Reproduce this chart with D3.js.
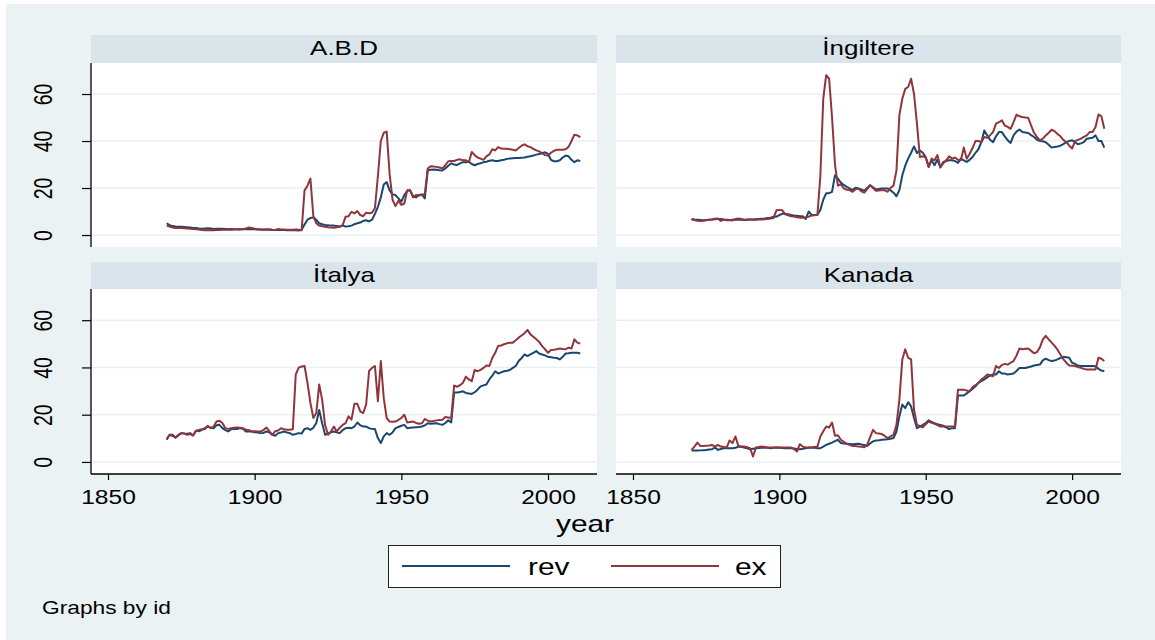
<!DOCTYPE html>
<html><head><meta charset="utf-8">
<script src="https://cdn.jsdelivr.net/npm/d3@7"></script>
<style>
body{margin:0;background:#fff}
svg{display:block}
text{font-family:"Liberation Sans",Arial,Helvetica,sans-serif;fill:#000}
</style>
</head><body>
<svg id="c" width="1155" height="640"></svg>
<script>
const years = d3.range(1870, 2012);
const countries = ["A.B.D", "İngiltere", "İtalya", "Kanada"];
const seriesNames = ["rev", "ex"];
const xTicks = [1850, 1900, 1950, 2000];
const yTicks = [0, 20, 40, 60];

const abdRev = [
5.0,4.2,3.8,3.6,3.5,3.5,3.4,3.3,3.2,3.0,
3.0,2.8,2.7,2.8,2.9,2.8,2.6,2.7,2.7,2.7,
2.6,2.5,2.6,2.5,2.4,2.4,2.5,2.4,2.6,2.5,
2.4,2.3,2.3,2.2,2.3,2.2,2.1,2.1,2.2,2.1,
2.1,2.0,2.0,2.0,2.0,1.9,2.2,4.5,6.5,7.2,
7.5,6.5,5.0,4.6,4.3,4.2,4.0,4.0,3.8,3.6,
4.0,3.6,3.7,4.0,4.6,5.0,5.3,6.0,6.3,5.8,
6.5,9.0,12.0,16.0,21.5,22.5,19.0,17.3,17.0,15.6,
14.2,17.0,18.8,19.0,16.5,16.0,17.0,17.3,15.6,27.5,
27.8,27.9,27.8,27.6,27.5,28.3,29.5,30.5,30.0,29.8,
30.5,31.0,31.0,31.2,30.2,29.7,30.2,30.5,31.0,31.2,
31.6,31.8,31.5,31.5,31.8,32.0,32.4,32.6,32.7,32.8,
32.8,32.9,33.0,33.3,33.5,33.8,34.2,34.5,34.8,35.2,
34.5,32.0,31.4,31.4,31.8,33.0,33.8,33.5,32.0,31.0,
31.8,31.5];
const abdEx = [
4.0,3.6,3.2,3.0,3.0,3.0,2.9,2.8,2.7,2.6,
2.5,2.3,2.1,2.0,2.0,2.1,2.0,2.1,2.1,2.2,
2.2,2.3,2.2,2.3,2.5,2.6,2.5,2.8,3.2,3.0,
2.7,2.5,2.3,2.3,2.4,2.5,2.2,2.1,2.6,2.4,
2.3,2.2,2.2,2.2,2.3,2.2,2.0,19.0,21.0,24.0,
8.0,5.0,4.0,3.7,3.5,3.3,3.2,3.1,3.3,3.5,
4.2,7.8,8.0,9.9,9.2,10.2,8.5,8.0,9.5,9.3,
9.5,11.5,25.0,40.0,43.5,44.0,26.0,15.0,12.3,14.6,
12.8,13.4,19.0,19.0,16.0,17.0,16.8,17.0,17.5,28.3,
29.3,29.2,29.0,28.7,28.3,29.7,31.4,31.5,31.5,32.0,
32.2,31.8,31.8,31.0,35.3,34.0,33.0,32.5,32.0,33.5,
34.3,36.5,36.0,37.4,36.8,36.7,36.7,36.5,36.3,36.0,
37.0,38.0,38.6,37.8,37.4,36.7,36.0,35.6,34.8,34.0,
33.8,35.0,35.8,36.3,36.3,36.3,36.5,37.5,40.0,42.7,
42.4,41.7];

const ingRev = [
6.8,6.6,6.5,6.4,6.3,6.4,6.5,6.6,6.7,6.8,
6.8,6.6,6.5,6.4,6.5,6.6,6.5,6.5,6.4,6.5,
6.6,6.6,6.7,6.8,6.9,7.0,7.2,7.4,7.8,7.8,
8.5,9.0,9.0,8.8,8.5,8.3,8.2,8.0,8.0,6.8,
10.0,8.6,8.5,8.6,10.7,15.0,17.8,17.8,18.4,25.4,
24.0,22.3,21.3,20.5,19.8,19.1,20.1,19.8,19.4,18.8,
20.0,21.2,20.3,19.4,19.6,19.8,19.8,19.8,19.0,18.0,
16.5,19.1,25.4,29.5,32.5,35.0,37.7,34.9,36.0,35.0,
33.2,29.0,31.8,29.7,32.1,28.7,31.1,31.5,31.8,31.8,
31.5,30.7,32.5,31.8,31.1,32.0,33.2,35.0,36.5,39.5,
44.5,42.4,40.5,39.5,42.0,43.8,43.8,42.0,40.3,39.2,
42.4,44.0,44.9,43.8,43.6,43.4,42.5,41.7,40.5,40.0,
39.9,39.5,38.4,37.2,37.5,37.7,38.0,38.7,39.5,40.0,
40.3,39.5,38.6,39.0,39.5,41.0,41.2,41.4,42.4,40.0,
40.0,37.2];
const ingEx = [
6.6,6.4,6.1,6.0,6.1,6.3,6.5,6.6,6.9,7.0,
6.0,6.5,6.3,6.4,6.2,6.8,7.0,6.8,6.5,6.6,
6.6,6.5,6.5,6.6,6.6,6.7,6.8,7.0,7.2,10.5,
10.7,10.5,8.8,8.4,8.0,7.9,7.6,7.4,7.4,7.5,
7.8,8.3,8.4,8.6,25.0,58.0,68.0,66.5,50.0,30.0,
21.0,21.6,19.8,19.3,19.1,18.4,19.5,19.8,18.6,18.0,
19.5,21.2,20.0,18.8,18.9,19.1,19.0,18.4,20.1,21.0,
27.5,51.0,58.0,62.2,63.0,66.5,60.0,47.4,33.2,33.5,
33.0,29.0,32.5,31.8,34.0,29.0,30.5,31.8,33.5,32.5,
33.0,32.0,31.8,37.2,32.5,34.6,37.0,40.0,40.0,39.5,
41.7,41.4,42.5,43.8,47.4,48.0,48.8,46.6,46.0,45.2,
48.0,51.2,50.5,50.2,50.0,49.9,46.6,43.5,41.7,40.3,
41.0,42.4,43.5,44.8,44.2,43.0,42.0,40.5,39.6,38.0,
36.8,40.0,40.5,41.0,41.8,42.4,43.8,43.8,46.0,51.3,
50.5,45.2];

const itaRev = [
9.4,11.5,11.5,10.3,11.5,12.2,12.0,11.9,12.2,11.2,
13.2,13.0,13.6,14.0,15.0,14.5,14.3,15.5,15.7,14.3,
13.5,12.9,13.9,13.9,13.9,14.3,14.0,12.9,12.9,12.9,
12.6,12.5,12.2,12.3,12.9,12.5,11.5,11.1,12.2,12.5,
12.9,12.5,12.2,11.5,11.8,12.2,12.0,14.0,14.3,13.6,
14.5,16.5,22.0,16.4,11.5,12.0,12.5,12.9,12.5,12.2,
13.5,14.3,14.5,14.3,15.0,16.7,15.5,15.0,15.0,14.3,
14.0,13.9,10.1,8.0,10.8,12.2,11.5,12.5,14.3,14.8,
15.3,15.7,14.3,14.5,14.6,14.7,14.8,15.0,15.5,16.4,
16.2,16.3,16.4,16.0,15.7,16.5,17.6,16.7,29.4,29.4,
29.6,29.9,29.2,29.0,28.8,29.5,30.6,32.0,32.4,32.8,
34.9,36.5,38.4,37.4,37.9,38.4,38.6,38.9,39.8,40.6,
42.7,44.0,45.5,44.8,45.5,46.2,46.9,45.9,45.5,45.1,
44.5,44.3,44.1,44.0,43.4,44.5,45.9,46.0,46.2,46.2,
46.2,45.9];
const itaEx = [
9.7,11.5,11.0,10.3,11.2,12.2,12.0,11.5,11.8,11.2,
13.2,13.5,13.8,14.3,15.3,14.3,15.0,17.1,17.4,16.5,
14.3,14.0,14.3,14.5,14.6,14.5,14.3,13.6,13.5,12.9,
13.0,12.9,12.9,13.5,14.6,13.0,11.5,13.0,13.3,14.3,
13.8,13.6,13.6,13.8,37.0,39.9,40.4,40.6,33.5,25.0,
18.6,20.7,32.8,26.4,15.7,11.5,12.9,15.0,12.9,14.5,
15.7,16.4,19.3,17.9,24.6,24.6,21.4,20.7,24.3,38.5,
39.8,40.6,25.7,42.7,27.0,18.6,17.1,17.0,17.1,17.8,
18.6,20.0,16.7,16.9,17.1,16.5,16.2,16.4,18.2,17.5,
17.1,17.3,17.6,17.8,17.9,19.0,18.8,18.6,32.4,31.8,
32.5,33.5,36.1,34.9,34.2,38.9,38.4,39.0,39.8,40.8,
40.6,44.0,46.2,49.1,49.3,49.8,50.2,50.5,50.5,51.5,
52.6,53.5,54.5,55.9,54.0,53.0,51.9,50.8,49.0,47.7,
46.2,47.4,47.5,47.7,48.0,47.8,47.7,48.4,48.0,51.9,
50.5,50.1];

const kanRev = [
4.8,4.8,4.8,4.9,5.0,5.1,5.3,5.4,6.1,5.1,
5.5,5.8,5.8,5.8,5.8,6.0,6.5,6.3,6.1,5.8,
5.4,5.6,5.8,5.9,6.0,6.1,6.0,5.8,6.0,6.1,
6.0,5.9,5.8,5.8,5.8,5.7,5.5,5.4,5.6,5.8,
6.0,6.1,6.0,5.8,5.8,6.5,7.2,7.7,8.2,8.8,
9.4,8.0,7.8,7.7,7.6,7.5,7.6,7.7,7.4,7.2,
6.8,7.8,8.7,9.1,9.2,9.4,9.5,9.6,9.8,10.1,
12.9,19.3,24.3,22.8,25.3,23.5,18.6,14.3,15.0,15.7,
16.5,17.6,17.0,16.4,16.0,15.7,15.3,14.6,13.9,14.3,
14.3,28.1,28.1,28.1,29.0,29.9,31.0,32.0,33.5,34.2,
34.9,35.8,36.6,37.0,37.0,38.4,37.4,37.4,37.0,37.2,
37.4,38.5,39.8,39.8,39.8,40.1,40.4,40.8,41.0,41.2,
43.0,43.7,43.1,42.7,42.9,43.4,44.0,44.5,44.3,44.1,
42.0,41.5,40.8,40.6,40.6,40.6,40.6,40.6,40.5,39.4,
38.7,38.4];
const kanEx = [
5.1,6.5,8.2,6.8,6.8,6.9,7.0,7.2,6.5,7.2,
6.5,6.3,6.1,9.1,8.0,10.8,6.8,6.6,6.5,6.2,
5.8,2.3,6.1,6.3,6.5,6.3,6.1,6.1,6.1,6.1,
6.1,6.1,6.1,6.1,6.1,5.5,4.4,7.5,6.5,6.1,
6.1,6.1,6.3,6.5,10.8,13.0,15.0,14.6,16.7,11.1,
11.3,9.4,8.5,7.7,7.2,6.8,6.7,6.5,6.4,6.2,
7.2,10.5,13.6,12.2,12.0,11.8,11.0,10.1,10.8,11.5,
15.7,26.4,43.4,47.7,44.1,43.4,22.1,15.7,15.2,14.7,
16.0,17.1,16.6,16.2,15.6,15.0,15.0,15.0,15.0,15.0,
15.0,30.6,30.6,30.6,30.2,29.9,31.7,32.5,33.5,34.9,
35.8,37.0,36.7,36.3,40.6,39.8,41.0,41.5,41.2,42.0,
42.7,45.0,48.0,47.7,47.9,48.0,47.0,46.0,46.5,48.5,
51.9,53.4,51.9,50.5,49.1,47.5,45.5,43.5,42.0,40.8,
40.7,40.6,40.2,39.8,39.4,39.1,39.1,39.1,39.1,44.1,
43.7,42.7];

const revSeries = [abdRev, ingRev, itaRev, kanRev];
const exSeries = [abdEx, ingEx, itaEx, kanEx];

// ---- styling / layout ----
const COL = {rev: "#1a476f", ex: "#90353b"};
const BG = "#eaf2f3", STRIP = "#d9e5ea", GRID = "#e8f0f2";
const SX = 1.3; // horizontal text stretch
const svg = d3.select("#c");

svg.append("rect").attr("x", 6).attr("y", 4).attr("width", 1149).attr("height", 636).attr("fill", BG);

const panels = [
  {x0: 91,  x1: 597,  h0: 35,  y0: 63,  y1: 247, showY: true,  showX: false},
  {x0: 616, x1: 1121, h0: 35,  y0: 63,  y1: 247, showY: false, showX: false},
  {x0: 91,  x1: 597,  h0: 262, y0: 289, y1: 474, showY: true,  showX: true},
  {x0: 616, x1: 1121, h0: 262, y0: 289, y1: 474, showY: false, showX: true}
];

function stretchText(sel, x, y, size, anchor, txt) {
  return sel.append("text")
    .attr("transform", `translate(${x},${y}) scale(${SX},1)`)
    .attr("text-anchor", anchor)
    .attr("font-size", size)
    .text(txt);
}

panels.forEach((p, i) => {
  const x = d3.scaleLinear().domain([1844.2, 2016.7]).range([p.x0, p.x1]);
  const y = d3.scaleLinear().domain([-5.1, 73.2]).range([p.y1, p.y0]);
  const g = svg.append("g");

  // header strip
  g.append("rect").attr("x", p.x0).attr("y", p.h0).attr("width", p.x1 - p.x0).attr("height", p.y0 - p.h0).attr("fill", STRIP);
  stretchText(g, (p.x0 + p.x1) / 2, p.h0 + 20, 20, "middle", countries[i]);

  // plot region
  g.append("rect").attr("x", p.x0).attr("y", p.y0).attr("width", p.x1 - p.x0).attr("height", p.y1 - p.y0).attr("fill", "#fff");

  // grid
  g.selectAll("line.grid").data(yTicks).join("line")
    .attr("x1", p.x0).attr("x2", p.x1)
    .attr("y1", d => y(d)).attr("y2", d => y(d))
    .attr("stroke", GRID).attr("stroke-width", 1.6);

  // lines
  const line = arr => d3.line().x((d, k) => x(years[k])).y(d => y(d))(arr);
  [["rev", revSeries[i]], ["ex", exSeries[i]]].forEach(([name, arr]) => {
    g.append("path").attr("d", line(arr)).attr("fill", "none")
      .attr("stroke", COL[name]).attr("stroke-width", 2).attr("stroke-linejoin", "round");
  });

  // y axis
  if (p.showY) {
    const ay = g.append("g").attr("transform", `translate(${p.x0},0)`)
      .call(d3.axisLeft(y).tickValues(yTicks).tickSize(9).tickSizeOuter(0).tickPadding(0));
    ay.select(".domain").attr("d", `M0,${p.y0}V${p.y1}`).attr("stroke", "#000").attr("stroke-width", 1.3);
    ay.selectAll(".tick line").attr("stroke", "#000").attr("stroke-width", 1.2);
    ay.selectAll(".tick text")
      .attr("x", null).attr("y", null).attr("dy", null)
      .attr("transform", `translate(-39,0) scale(${SX},1) rotate(-90)`)
      .attr("text-anchor", "middle")
      .attr("font-size", 19.5).attr("font-family", null).attr("fill", "#000");
  }
  // x axis
  if (p.showX) {
    const ax = g.append("g").attr("transform", `translate(0,${p.y1})`)
      .call(d3.axisBottom(x).tickValues(xTicks).tickFormat(d3.format("d")).tickSize(6).tickSizeOuter(0));
    ax.select(".domain").attr("d", `M${p.x0},0H${p.x1}`).attr("stroke", "#000").attr("stroke-width", 1.3);
    ax.selectAll(".tick line").attr("stroke", "#000").attr("stroke-width", 1.2);
    ax.selectAll(".tick text")
      .attr("x", null).attr("y", null).attr("dy", null)
      .attr("transform", `translate(0,30) scale(${SX - 0.04},1)`)
      .attr("text-anchor", "middle")
      .attr("font-size", 19.5).attr("font-family", null).attr("fill", "#000");
  }
});

// x axis title
stretchText(svg, 585, 532, 23, "middle", "year");

// legend
const lg = svg.append("g");
lg.append("rect").attr("x", 388.5).attr("y", 545.5).attr("width", 392).attr("height", 42)
  .attr("fill", "#fff").attr("stroke", "#222").attr("stroke-width", 1);
const legendItems = [{name: seriesNames[0], lx: 402, tx: 528}, {name: seriesNames[1], lx: 611, tx: 735}];
legendItems.forEach(it => {
  lg.append("line").attr("x1", it.lx).attr("x2", it.lx + 108).attr("y1", 566).attr("y2", 566)
    .attr("stroke", COL[it.name]).attr("stroke-width", 2);
  stretchText(lg, it.tx, 575, 23, "start", it.name);
});

// note
stretchText(svg, 42, 614, 17.5, "start", "Graphs by id");
</script>
</body></html>
